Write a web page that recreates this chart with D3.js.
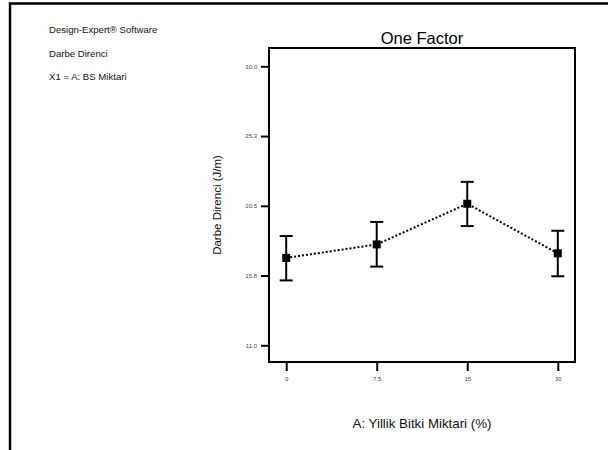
<!DOCTYPE html>
<html>
<head>
<meta charset="utf-8">
<script src="https://cdn.jsdelivr.net/npm/d3@7"></script>
<style>
  html, body { margin: 0; padding: 0; background: #fff; }
  svg { display: block; font-family: "Liberation Sans", Arial, sans-serif; }
</style>
</head>
<body>
<div id="chart"></div>
<script>
const levels = ["0", "7.5", "15", "30"];
const means = [16.95, 17.87, 20.64, 17.26];
const lower = [15.42, 16.36, 19.12, 15.70];
const upper = [18.44, 19.40, 22.13, 18.80];
const yTicks = [11.0, 15.75, 20.5, 25.25, 30.0];
const yTickLabels = ["11.0", "15.8", "20.5", "25.3", "30.0"];
const infoLines = ["Design-Expert® Software", "Darbe Direnci", "X1 = A: BS Miktari"];

const width = 608;
const height = 450;
const box = { left: 269, top: 48, right: 575, bottom: 362 };

const svg = d3.select("#chart").append("svg")
  .attr("width", width)
  .attr("height", height);

// outer frame (left + top only)
svg.append("path")
  .attr("d", `M10,${height} V3.5 H${width}`)
  .attr("fill", "none")
  .attr("stroke", "black")
  .attr("stroke-width", 2.5);

svg.append("g")
  .selectAll("text")
  .data(infoLines)
  .enter()
    .append("text")
    .text(d => d)
    .attr("x", 49)
    .attr("y", (d, i) => 33 + i * 23.5)
    .style("font-size", "9.6px")
    .attr("fill", "#111");

const x = d3.scalePoint()
  .domain(levels)
  .range([box.left, box.right])
  .padding(0.19);

const y = d3.scaleLinear()
  .domain([11, 30])
  .range([345.3, 66.3]);

svg.append("rect")
  .attr("x", box.left)
  .attr("y", box.top)
  .attr("width", box.right - box.left)
  .attr("height", box.bottom - box.top)
  .attr("fill", "none")
  .attr("stroke", "black")
  .attr("stroke-width", 2);

const yAxis = svg.append("g")
  .attr("transform", `translate(${box.left},0)`)
  .call(d3.axisLeft(y)
    .tickValues(yTicks)
    .tickFormat((d, i) => yTickLabels[i])
    .tickSize(8)
    .tickPadding(4));
yAxis.select(".domain").remove();
yAxis.selectAll("line").attr("stroke-width", 2);
yAxis.selectAll("text")
  .style("font-size", "6px")
  .style("font-family", "'Liberation Sans', Arial, sans-serif")
  .attr("fill", "#444");

const xAxis = svg.append("g")
  .attr("transform", `translate(0,${box.bottom})`)
  .call(d3.axisBottom(x)
    .tickSize(9)
    .tickPadding(6));
xAxis.select(".domain").remove();
xAxis.selectAll("line").attr("stroke-width", 2);
xAxis.selectAll("text")
  .style("font-size", "6px")
  .style("font-family", "'Liberation Sans', Arial, sans-serif")
  .attr("fill", "#444");

svg.append("text")
  .text("One Factor")
  .attr("x", (box.left + box.right) / 2)
  .attr("y", 44)
  .style("text-anchor", "middle")
  .style("font-size", "16.5px")
  .attr("fill", "black");

svg.append("text")
  .text("A: Yillik Bitki Miktari (%)")
  .attr("x", (box.left + box.right) / 2)
  .attr("y", 428)
  .style("text-anchor", "middle")
  .style("font-size", "13.3px")
  .attr("fill", "#111");

svg.append("text")
  .text("Darbe Direnci (J/m)")
  .attr("transform", `translate(221,${(box.top + box.bottom) / 2}) rotate(-90)`)
  .style("text-anchor", "middle")
  .style("font-size", "11.5px")
  .attr("fill", "#111");

const pts = levels.map((d, i) => ({ level: d, mean: means[i], lo: lower[i], hi: upper[i] }));

svg.append("path")
  .datum(pts)
  .attr("d", d3.line().x(d => x(d.level)).y(d => y(d.mean)))
  .attr("fill", "none")
  .attr("stroke", "black")
  .attr("stroke-width", 2)
  .attr("stroke-dasharray", "2,2");

const err = svg.append("g")
  .attr("stroke", "black")
  .attr("stroke-width", 2)
  .selectAll("g")
  .data(pts)
  .enter()
    .append("g");
err.append("line")
  .attr("x1", d => x(d.level))
  .attr("x2", d => x(d.level))
  .attr("y1", d => y(d.lo))
  .attr("y2", d => y(d.hi));
err.append("line")
  .attr("x1", d => x(d.level) - 6.5)
  .attr("x2", d => x(d.level) + 6.5)
  .attr("y1", d => y(d.hi))
  .attr("y2", d => y(d.hi));
err.append("line")
  .attr("x1", d => x(d.level) - 6.5)
  .attr("x2", d => x(d.level) + 6.5)
  .attr("y1", d => y(d.lo))
  .attr("y2", d => y(d.lo));

svg.append("g")
  .selectAll("rect")
  .data(pts)
  .enter()
    .append("rect")
    .attr("x", d => x(d.level) - 4)
    .attr("y", d => y(d.mean) - 4)
    .attr("width", 8)
    .attr("height", 8)
    .attr("fill", "black");
</script>
</body>
</html>
